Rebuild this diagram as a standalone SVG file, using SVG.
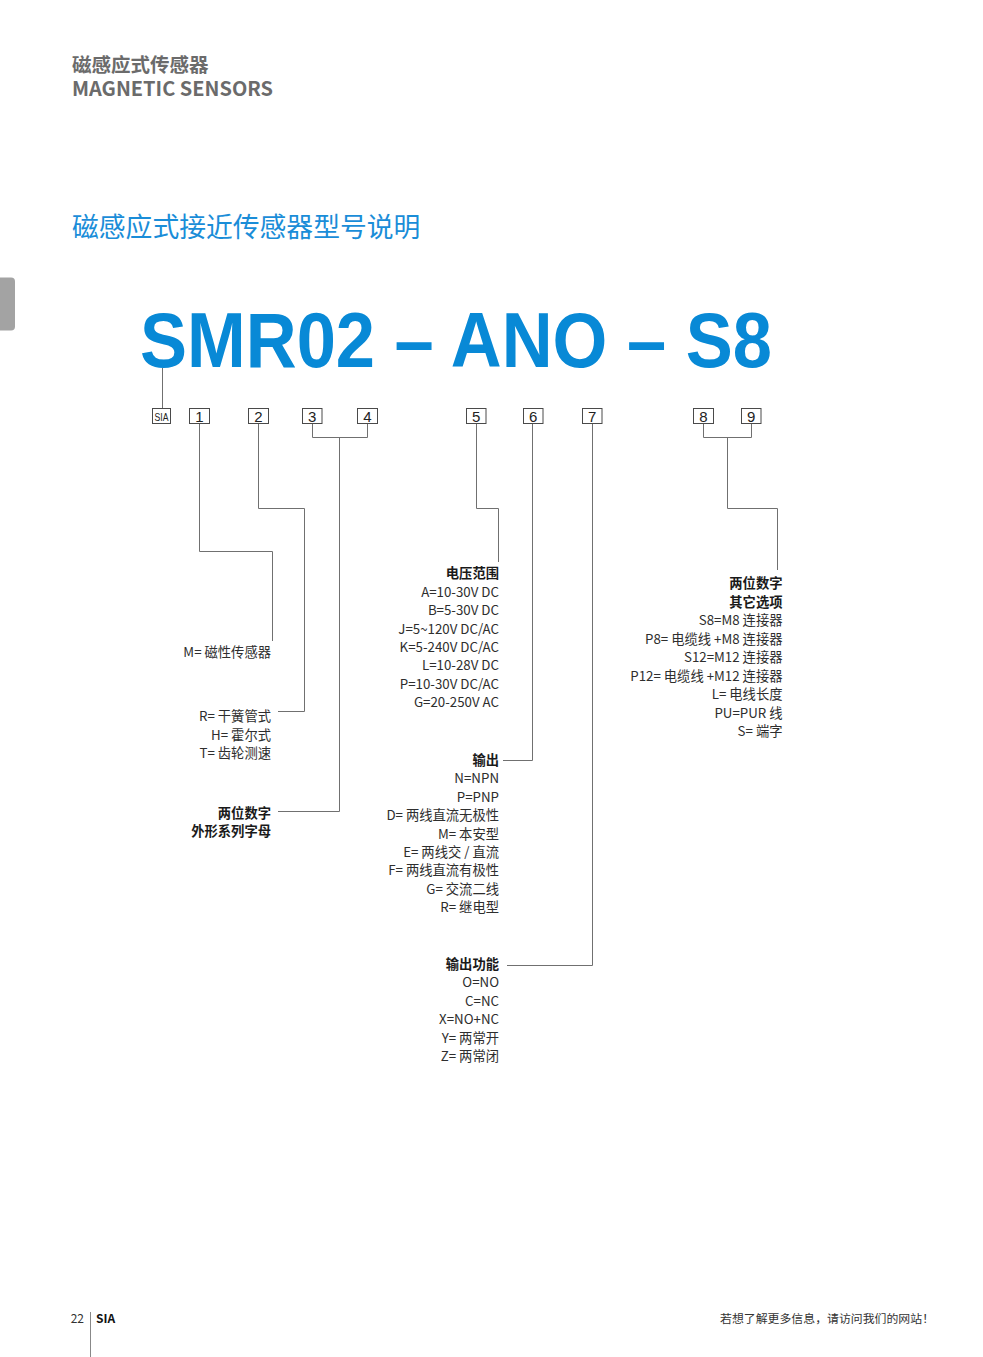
<svg xmlns="http://www.w3.org/2000/svg" width="983" height="1357" viewBox="0 0 983 1357">
<style>
.t{font-family:"Noto Sans CJK SC","Noto Sans",sans-serif;font-size:13.3px;fill:#2e2e2e;text-anchor:end}
.b{font-weight:bold;fill:#1a1a1a}
.box{fill:#fff;stroke:#4a4a4a;stroke-width:1}
.d{font-family:"Liberation Sans",Arial,sans-serif;font-size:15px;fill:#222;text-anchor:middle}
.ln{fill:none;stroke:#707070;stroke-width:1}
</style>
<rect width="983" height="1357" fill="#fff"/>
<g id="header">
<text x="72" y="71.5" font-family="Noto Sans CJK SC,sans-serif" font-size="19.5" font-weight="bold" fill="#6b6b6b">磁感应式传感器</text>
<text x="72" y="96" font-family="Noto Sans CJK SC,Noto Sans,sans-serif" font-size="20" font-weight="bold" fill="#6b6b6b" textLength="201" lengthAdjust="spacingAndGlyphs">MAGNETIC SENSORS</text>
<text x="72" y="237" font-family="Noto Sans CJK SC,sans-serif" font-size="26.8" fill="#1a8dd8">磁感应式接近传感器型号说明</text>
<path d="M0 277.5 H11 Q15 277.5 15 281.5 V326.5 Q15 330.5 11 330.5 H0 Z" fill="#a3a3a3"/>
</g>
<g id="model">
<text x="140" y="367" font-family="Liberation Sans,Arial,sans-serif" font-size="78" font-weight="bold" fill="#0889d6" textLength="632" lengthAdjust="spacingAndGlyphs">SMR02 – ANO – S8</text>
</g>
<g id="connectors">
<path class="ln" d="M162.5 368 V408.5"/>
<path class="ln" d="M199.5 424 V551.5 H272.5 V641"/>
<path class="ln" d="M258.5 424 V508.5 H304.5 V711.5 H278"/>
<path class="ln" d="M312.5 424 V437.5 H367.5 V424 M339.5 437.5 V811.5 H278"/>
<path class="ln" d="M476.5 424 V508.5 H498.5 V562"/>
<path class="ln" d="M532.5 424 V760.5 H503"/>
<path class="ln" d="M592.5 424 V965.5 H507"/>
<path class="ln" d="M703.5 424 V437.5 H751.5 V424 M727.5 437.5 V508.5 H777.5 V570"/>
</g>
<g id="box-sia"><rect class="box" x="152.5" y="408.5" width="18" height="15"/><text x="161.5" y="420.5" font-family="Liberation Sans,Arial,sans-serif" font-size="10.5" fill="#222" text-anchor="middle" textLength="14" lengthAdjust="spacingAndGlyphs">SIA</text></g>
<g id="box-1"><rect class="box" x="189.5" y="408.5" width="20" height="15"/><text class="d" x="199.5" y="421.5">1</text></g>
<g id="box-2"><rect class="box" x="248.5" y="408.5" width="20" height="15"/><text class="d" x="258.5" y="421.5">2</text></g>
<g id="box-3"><rect class="box" x="302.5" y="408.5" width="19.5" height="15"/><text class="d" x="312.2" y="421.5">3</text></g>
<g id="box-4"><rect class="box" x="357.5" y="408.5" width="20" height="15"/><text class="d" x="367.5" y="421.5">4</text></g>
<g id="box-5"><rect class="box" x="466.5" y="408.5" width="19.5" height="15"/><text class="d" x="476.2" y="421.5">5</text></g>
<g id="box-6"><rect class="box" x="523.5" y="408.5" width="19.5" height="15"/><text class="d" x="533.2" y="421.5">6</text></g>
<g id="box-7"><rect class="box" x="582.5" y="408.5" width="19.5" height="15"/><text class="d" x="592.2" y="421.5">7</text></g>
<g id="box-8"><rect class="box" x="693.5" y="408.5" width="20" height="15"/><text class="d" x="703.5" y="421.5">8</text></g>
<g id="box-9"><rect class="box" x="741.5" y="408.5" width="19.5" height="15"/><text class="d" x="751.2" y="421.5">9</text></g>
<g id="node-1"><text class="t" x="271" y="657">M= 磁性传感器</text></g>
<g id="node-2">
<text class="t" x="271" y="721">R= 干簧管式</text>
<text class="t" x="271" y="739.5">H= 霍尔式</text>
<text class="t" x="271" y="758">T= 齿轮测速</text>
</g>
<g id="node-34">
<text class="t b" x="271" y="817.5">两位数字</text>
<text class="t b" x="271" y="836">外形系列字母</text>
</g>
<g id="node-5">
<text class="t b" x="499" y="578">电压范围</text>
<text class="t" x="499" y="597">A=10-30V DC</text>
<text class="t" x="499" y="615">B=5-30V DC</text>
<text class="t" x="499" y="633.5">J=5~120V DC/AC</text>
<text class="t" x="499" y="652">K=5-240V DC/AC</text>
<text class="t" x="499" y="670">L=10-28V DC</text>
<text class="t" x="499" y="688.5">P=10-30V DC/AC</text>
<text class="t" x="499" y="707">G=20-250V AC</text>
</g>
<g id="node-6">
<text class="t b" x="499" y="764.5">输出</text>
<text class="t" x="499" y="783">N=NPN</text>
<text class="t" x="499" y="801.5">P=PNP</text>
<text class="t" x="499" y="820">D= 两线直流无极性</text>
<text class="t" x="499" y="838.5">M= 本安型</text>
<text class="t" x="499" y="857">E= 两线交 / 直流</text>
<text class="t" x="499" y="875">F= 两线直流有极性</text>
<text class="t" x="499" y="894">G= 交流二线</text>
<text class="t" x="499" y="912">R= 继电型</text>
</g>
<g id="node-7">
<text class="t b" x="499" y="969">输出功能</text>
<text class="t" x="499" y="987">O=NO</text>
<text class="t" x="499" y="1005.5">C=NC</text>
<text class="t" x="499" y="1024">X=NO+NC</text>
<text class="t" x="499" y="1042.5">Y= 两常开</text>
<text class="t" x="499" y="1061">Z= 两常闭</text>
</g>
<g id="node-89">
<text class="t b" x="782.5" y="588">两位数字</text>
<text class="t b" x="782.5" y="606.5">其它选项</text>
<text class="t" x="782.5" y="625">S8=M8 连接器</text>
<text class="t" x="782.5" y="643.5">P8= 电缆线 +M8 连接器</text>
<text class="t" x="782.5" y="662">S12=M12 连接器</text>
<text class="t" x="782.5" y="680.5">P12= 电缆线 +M12 连接器</text>
<text class="t" x="782.5" y="699">L= 电线长度</text>
<text class="t" x="782.5" y="717.5">PU=PUR 线</text>
<text class="t" x="782.5" y="736">S= 端字</text>
</g>
<g id="footer">
<text x="84" y="1323" font-family="Noto Sans CJK SC,sans-serif" font-size="12" fill="#333" text-anchor="end">22</text>
<line x1="90.5" y1="1312" x2="90.5" y2="1357" stroke="#888" stroke-width="1"/>
<text x="96" y="1323" font-family="Noto Sans CJK SC,sans-serif" font-size="12" font-weight="bold" fill="#111">SIA</text>
<text x="720" y="1322.5" font-family="Noto Sans CJK SC,sans-serif" font-size="11.9" fill="#333">若想了解更多信息，请访问我们的网站！</text>
</g>
</svg>
